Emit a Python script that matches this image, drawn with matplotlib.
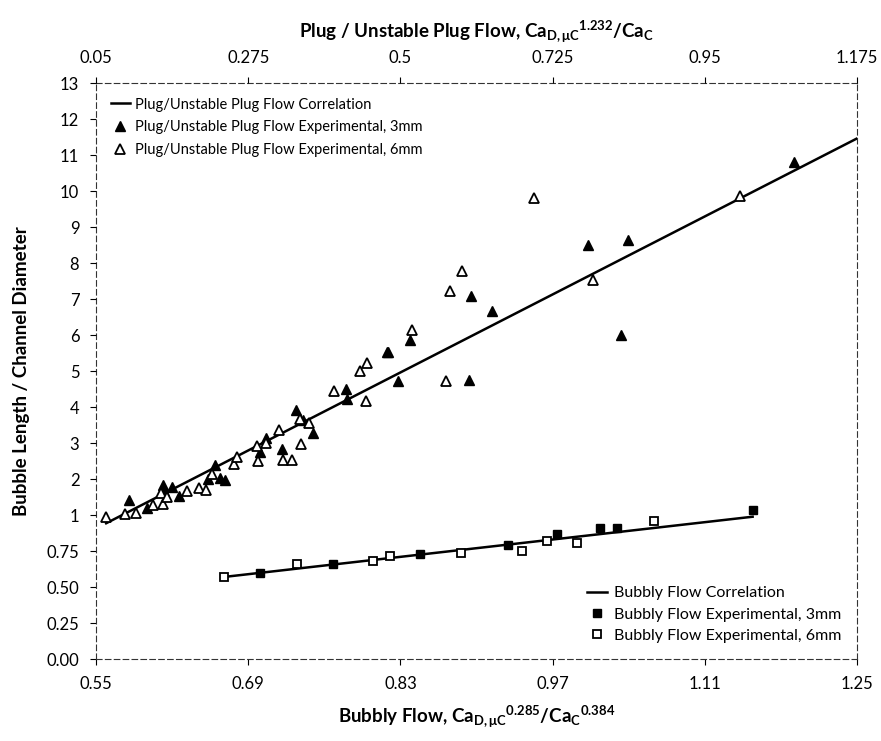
import matplotlib
matplotlib.use("Agg")
import matplotlib.pyplot as plt

plt.rcParams['font.family'] = ['Lato', 'DejaVu Sans']
plt.rcParams['mathtext.fontset'] = 'custom'
plt.rcParams['mathtext.rm'] = 'Lato'
plt.rcParams['mathtext.bf'] = 'Lato:bold'
plt.rcParams['mathtext.it'] = 'Lato:italic'

# plug / unstable plug flow (top x axis, left y axis 1..13)
plug_corr_x = [0.065, 1.175]
plug_corr_y = [0.77, 11.46]

plug3_x = [0.099, 0.126, 0.149, 0.150, 0.162, 0.172, 0.215, 0.226, 0.233, 0.241,
           0.293, 0.301, 0.325, 0.345, 0.356, 0.371, 0.420, 0.421, 0.480, 0.482,
           0.496, 0.514, 0.601, 0.604, 0.636, 0.778, 0.826, 0.836, 1.082]
plug3_y = [1.42, 1.20, 1.84, 1.68, 1.77, 1.52, 2.00, 2.39, 2.04, 1.98,
           2.76, 3.15, 2.83, 3.91, 3.63, 3.29, 4.49, 4.21, 5.54, 5.52,
           4.73, 5.85, 4.76, 7.09, 6.68, 8.49, 5.99, 8.65, 10.81]

plug6_x = [0.065, 0.093, 0.109, 0.135, 0.149, 0.146, 0.155, 0.185, 0.202, 0.213,
           0.221, 0.254, 0.258, 0.288, 0.290, 0.302, 0.320, 0.327, 0.340, 0.352,
           0.353, 0.365, 0.402, 0.441, 0.449, 0.450, 0.517, 0.567, 0.574, 0.591,
           0.697, 0.784, 1.002]
plug6_y = [0.95, 1.03, 1.06, 1.29, 1.31, 1.61, 1.51, 1.66, 1.74, 1.70,
           2.14, 2.41, 2.60, 2.92, 2.50, 3.01, 3.35, 2.52, 2.52, 3.66,
           2.97, 3.56, 4.44, 5.01, 4.18, 5.22, 6.14, 4.71, 7.22, 7.77,
           9.80, 7.53, 9.85]

# bubbly flow (bottom x axis, left y axis 0..0.75)
bub_corr_x = [0.668, 1.154]
bub_corr_y = [0.57, 0.988]

bub3_x = [0.701, 0.768, 0.848, 0.929, 0.974, 1.014, 1.029, 1.154]
bub3_y = [0.60, 0.66, 0.73, 0.79, 0.866, 0.908, 0.908, 1.035]

bub6_x = [0.668, 0.735, 0.805, 0.820, 0.886, 0.942, 0.965, 0.992, 1.063]
bub6_y = [0.572, 0.658, 0.681, 0.715, 0.738, 0.752, 0.819, 0.808, 0.960]

bottom_ticks = [0.55, 0.69, 0.83, 0.97, 1.11, 1.25]
top_ticks = [0.05, 0.275, 0.5, 0.725, 0.95, 1.175]
bub_yticks = [0.0, 0.25, 0.5, 0.75]
plug_yticks = list(range(1, 14))

fig = plt.figure(figsize=(8.81, 7.41), dpi=100)
rect = [96 / 881, 1 - 659 / 741, (857 - 96) / 881, (659 - 83) / 741]
ax_b = fig.add_axes(rect)
ax_p = fig.add_axes(rect)

# bubbly axes
ax_b.plot(bub_corr_x, bub_corr_y, color='black', lw=1.8, label='Bubbly Flow Correlation')
ax_b.plot(bub3_x, bub3_y, ls='none', marker='s', ms=6, mfc='black', mec='black',
          label='Bubbly Flow Experimental, 3mm')
ax_b.plot(bub6_x, bub6_y, ls='none', marker='s', ms=6, mfc='white', mec='black', mew=1.3,
          label='Bubbly Flow Experimental, 6mm')
ax_b.set_xlim(0.55, 1.25)
ax_b.set_ylim(0, 4)
ax_b.set_xticks(bottom_ticks)
ax_b.set_xticklabels([f"{t:g}" for t in bottom_ticks])
ax_b.set_yticks(bub_yticks)
ax_b.set_yticklabels([f"{t:.2f}" for t in bub_yticks])
ax_b.tick_params(direction='out', length=4, width=0.8, labelsize=12, pad=8)
for sp in ax_b.spines.values():
    sp.set_linestyle((0, (5, 3)))
    sp.set_linewidth(0.8)
    sp.set_color('#333333')
ax_b.set_xlabel(r"Bubbly Flow, Ca$_{\mathbf{D,μC}}$$^{\mathbf{0.285}}$/Ca$_{\mathbf{C}}$$^{\mathbf{0.384}}$",
                fontsize=13.5, fontweight='bold', labelpad=9)
ax_b.set_ylabel("Bubble Length / Channel Diameter", fontsize=13.5, fontweight='bold')
ax_b.yaxis.set_label_coords(-0.087, 0.5)
ax_b.legend(loc='lower right', bbox_to_anchor=(1.0, 0.0), frameon=False, fontsize=11.5,
            handlelength=1.3, handletextpad=0.4, labelspacing=0.45, borderaxespad=0.6)

# plug axes on top of the same area
ax_p.patch.set_visible(False)
for sp in ax_p.spines.values():
    sp.set_visible(False)
ax_p.plot(plug_corr_x, plug_corr_y, color='black', lw=1.8,
          label='Plug/Unstable Plug Flow Correlation')
ax_p.plot(plug3_x, plug3_y, ls='none', marker='^', ms=7, mfc='black', mec='black',
          label='Plug/Unstable Plug Flow Experimental, 3mm')
ax_p.plot(plug6_x, plug6_y, ls='none', marker='^', ms=7, mfc='white', mec='black', mew=1.3,
          label='Plug/Unstable Plug Flow Experimental, 6mm')
ax_p.set_xlim(0.05, 1.175)
ax_p.set_ylim(-3, 13)
ax_p.xaxis.tick_top()
ax_p.xaxis.set_label_position('top')
ax_p.set_xticks(top_ticks)
ax_p.set_xticklabels([f"{t:g}" for t in top_ticks])
ax_p.set_yticks(plug_yticks)
ax_p.set_yticklabels([str(t) for t in plug_yticks])
ax_p.tick_params(direction='out', length=4, width=0.8, labelsize=12, pad=8)
ax_p.set_xlabel(r"Plug / Unstable Plug Flow, Ca$_{\mathbf{D,μC}}$$^{\mathbf{1.232}}$/Ca$_{\mathbf{C}}$",
                fontsize=13.5, fontweight='bold', labelpad=9)
ax_p.legend(loc='upper left', bbox_to_anchor=(0.0, 1.0), frameon=False, fontsize=10.5,
            handlelength=1.3, handletextpad=0.4, labelspacing=0.6, borderaxespad=0.6)

fig.savefig("out.png", dpi=100)
